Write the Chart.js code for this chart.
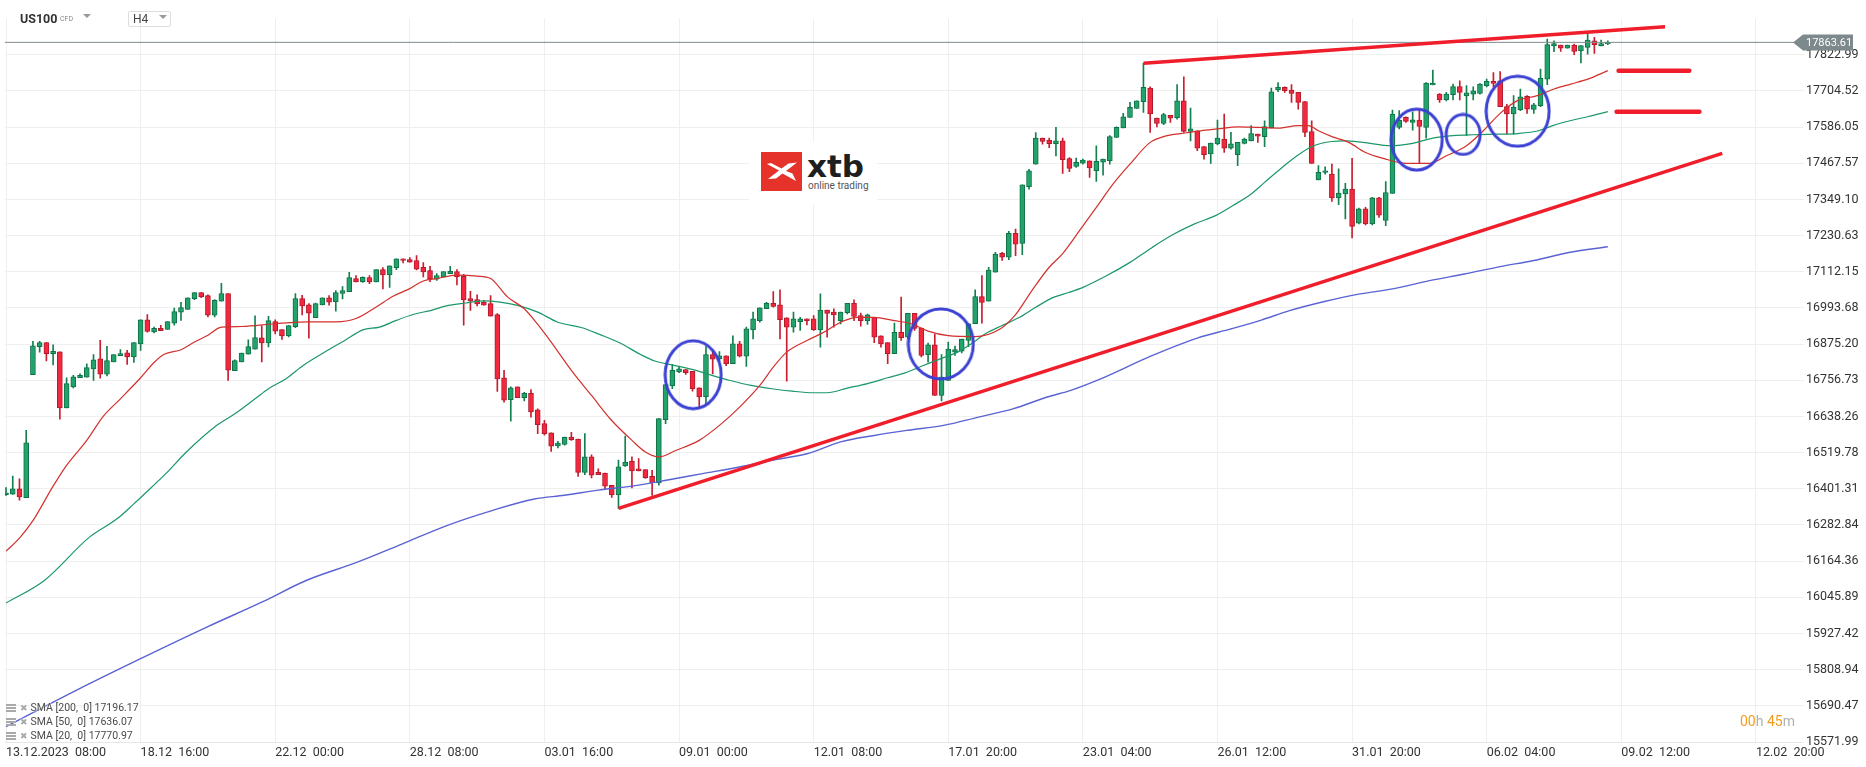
<!DOCTYPE html>
<html>
<head>
<meta charset="utf-8">
<script src="https://cdn.jsdelivr.net/npm/chart.js@4.4.1/dist/chart.umd.min.js"></script>
<style>
html, body { margin: 0; padding: 0; background: #fff; }
#wrap { position: relative; width: 1866px; height: 767px; font-family: Roboto, sans-serif; overflow: hidden; }
#chart { position: absolute; left: 0; top: 0; }
.ov { position: absolute; white-space: nowrap; }
.tri { position: absolute; width: 0; height: 0; border-left: 4px solid transparent; border-right: 4px solid transparent; border-top: 4px solid #9a9a9a; }
.leg { position: absolute; left: 6px; font-size: 10.5px; color: #4a4a4a; white-space: pre; text-shadow: 0 0 2px #fff, 0 0 2px #fff; }
.leg .ic { display: inline-block; width: 10px; height: 8px; margin-right: 4px; vertical-align: -1px;
  background: repeating-linear-gradient(#a9a9a9 0 2px, transparent 2px 3px); }
.leg .x { color: #a9a9a9; font-family: "DejaVu Sans"; font-size: 9px; margin-right: 3px; }
</style>
</head>
<body>
<div id="wrap">
  <canvas id="chart" width="1866" height="767"></canvas>

  <div class="ov" style="left:20px;top:11px;font-weight:bold;font-size:12.5px;color:#333;">US100</div>
  <div class="ov" style="left:60px;top:15px;font-size:7px;color:#888;">CFD</div>
  <div class="tri" style="left:83px;top:14px;"></div>
  <div class="ov" style="left:128px;top:11px;width:41px;height:14px;border:1px solid #dedede;border-radius:2px;"></div>
  <div class="ov" style="left:133px;top:12px;font-size:12px;color:#444;">H4</div>
  <div class="tri" style="left:159px;top:15px;"></div>

  <div class="ov" style="left:749px;top:142px;width:128px;height:62px;background:#fff;">
    <svg style="position:absolute;left:12px;top:10px;" width="41" height="39" viewBox="0 0 41 39">
      <rect width="41" height="39" fill="#e5322b"/>
      <path d="M6 12 L18 18.5 L7 27 L15 26.5 L21.5 21.5 L35 29 L31.5 21.5 L25 19 L36 10.5 L27.5 11.5 L20.5 16.5 L10 11 Z" fill="#fff"/>
    </svg>
    <div class="ov" style="left:58px;top:6px;font-family:'DejaVu Sans';font-weight:bold;font-size:31px;color:#1e1e1e;letter-spacing:0px;">xtb</div>
    <div class="ov" style="left:59px;top:38px;font-size:10px;color:#555;">online trading</div>
  </div>

  <div class="leg" style="top:701px;"><span class="ic"></span><span class="x">✖</span>SMA [200,  0] 17196.17</div>
  <div class="leg" style="top:715px;"><span class="ic"></span><span class="x">✖</span>SMA [50,  0] 17636.07</div>
  <div class="leg" style="top:729px;"><span class="ic"></span><span class="x">✖</span>SMA [20,  0] 17770.97</div>

  <div class="ov" style="left:1740px;top:713px;font-size:14px;"><span style="color:#f59d1b;">00</span><span style="color:#b0b0b0;">h </span><span style="color:#f59d1b;">45</span><span style="color:#b0b0b0;">m</span></div>
</div>

<script>
// --- data (bar index 0 = 13.12.2023 08:00, H4 bars) ---
const xTickLabels = ['13.12.2023  08:00', '18.12  16:00', '22.12  00:00', '28.12  08:00', '03.01  16:00',
  '09.01  00:00', '12.01  08:00', '17.01  20:00', '23.01  04:00', '26.01  12:00', '31.01  20:00',
  '06.02  04:00', '09.02  12:00', '12.02  20:00'];

const yTicks = [15571.99, 15690.47, 15808.94, 15927.42, 16045.89, 16164.36, 16282.84, 16401.31, 16519.78,
  16638.26, 16756.73, 16875.20, 16993.68, 17112.15, 17230.63, 17349.10, 17467.57, 17586.05, 17704.52, 17822.99];

const openP = [
  16382,16384,16401,16372,16775,16867,16880,16844,16850,16666,
  16735,16765,16767,16794,16827,16777,16817,16837,16847,16833,
  16876,16955,16915,16927,16923,16944,16980,16989,17024,17044,
  17034,16970,17016,17041,16788,16817,16842,16859,16896,16879,
  16949,16923,16902,16932,17024,17004,16962,17004,17027,17014,
  17041,17047,17090,17080,17093,17079,17119,17102,17126,17155,
  17152,17149,17127,17116,17088,17095,17106,17113,17097,17024,
  17021,17013,17008,16972,16765,16693,16735,16700,16714,16660,
  16615,16585,16542,16547,16571,16564,16455,16506,16455,16453,
  16413,16381,16476,16491,16467,16464,16442,16421,16628,16738,
  16784,16792,16786,16732,16702,16841,16827,16837,16811,16876,
  16836,16922,16952,16991,17009,17004,16961,16931,16949,16958,
  16958,16922,16987,16980,16952,16978,17009,16969,16952,16963,
  16902,16880,16844,16914,16898,16976,16928,16841,16873,16707,
  16756,16849,16852,16887,16942,17031,17016,17111,17173,17160,
  17238,17205,17391,17465,17550,17543,17532,17541,17483,17457,
  17468,17476,17443,17471,17476,17552,17583,17618,17647,17669,
  17714,17616,17598,17625,17616,17672,17572,17574,17522,17498,
  17531,17547,17517,17496,17533,17541,17563,17555,17583,17708,
  17716,17707,17700,17670,17571,17413,17438,17432,17354,17367,
  17383,17271,17318,17269,17354,17280,17369,17585,17618,17601,
  17609,17585,17724,17694,17675,17692,17719,17688,17694,17696,
  17722,17736,17738,17653,17629,17642,17687,17644,17656,17743,
  17852,17855,17845,17855,17836,17847,17869,17852,17859];

const highP = [
  16405,16443,16434,16593,16884,16884,16880,16873,16850,16765,
  16773,16778,16811,16841,16888,16868,16841,16857,16855,16880,
  16955,16972,16931,16937,16949,16993,17012,17027,17044,17044,
  17037,17021,17074,17041,16824,16846,16889,16968,16935,16966,
  16955,16923,16936,17041,17035,17008,17010,17027,17034,17051,
  17064,17110,17100,17096,17100,17119,17126,17132,17155,17155,
  17159,17165,17142,17130,17106,17113,17130,17119,17104,17048,
  17037,17019,17034,16975,16789,16735,16735,16717,16726,16663,
  16626,16585,16557,16571,16586,16564,16582,16513,16467,16453,
  16413,16495,16574,16506,16500,16464,16462,16631,16743,16809,
  16800,16792,16786,16732,16867,16854,16851,16837,16902,16884,
  16931,16980,16994,17012,17047,17053,16961,16980,16963,16958,
  16969,17040,16987,16991,16980,17009,17020,16977,16974,16963,
  16902,16880,16944,17029,16976,16976,16928,16879,16907,16841,
  16882,16869,16892,16942,17053,17100,17127,17176,17176,17245,
  17252,17397,17448,17568,17550,17550,17585,17550,17486,17485,
  17481,17476,17525,17481,17558,17587,17631,17667,17672,17795,
  17718,17616,17631,17625,17725,17751,17648,17574,17522,17534,
  17609,17629,17569,17536,17550,17591,17563,17607,17714,17732,
  17718,17725,17700,17670,17607,17460,17456,17465,17449,17402,
  17484,17321,17323,17356,17356,17408,17642,17640,17620,17636,
  17642,17732,17773,17696,17700,17727,17738,17722,17718,17729,
  17743,17765,17768,17661,17689,17711,17689,17664,17776,17874,
  17869,17855,17855,17858,17853,17893,17880,17871,17869];

const lowP = [
  16380,16383,16364,16372,16775,16849,16820,16807,16629,16666,
  16732,16765,16767,16756,16764,16771,16817,16837,16809,16815,
  16855,16914,16912,16919,16923,16937,16953,16989,17021,17027,
  16964,16964,17016,16756,16788,16817,16842,16859,16817,16866,
  16909,16891,16899,16929,16971,16895,16962,17004,17003,16983,
  17023,17047,17079,17077,17073,17079,17056,17061,17119,17141,
  17144,17118,17095,17080,17084,17095,17106,17069,16937,16986,
  17000,17003,16967,16720,16685,16623,16700,16689,16636,16582,
  16577,16524,16535,16544,16560,16442,16448,16437,16448,16402,
  16373,16337,16475,16404,16460,16435,16380,16413,16615,16729,
  16782,16776,16721,16669,16680,16778,16822,16805,16811,16833,
  16802,16892,16947,16991,16996,16892,16754,16914,16920,16938,
  16920,16865,16898,16931,16941,16974,16952,16934,16940,16880,
  16865,16811,16844,16887,16892,16920,16833,16816,16707,16689,
  16756,16838,16846,16867,16942,16944,17016,17111,17149,17152,
  17165,17168,17383,17465,17530,17519,17492,17434,17440,17454,
  17465,17421,17408,17429,17465,17552,17583,17618,17647,17634,
  17569,17587,17594,17601,17612,17569,17541,17509,17481,17467,
  17528,17503,17514,17460,17531,17541,17536,17522,17583,17702,
  17700,17667,17645,17555,17467,17413,17432,17343,17332,17285,
  17223,17269,17266,17266,17290,17263,17369,17580,17601,17576,
  17467,17550,17724,17667,17672,17675,17675,17558,17675,17694,
  17718,17718,17653,17563,17563,17640,17631,17631,17653,17725,
  17833,17834,17845,17823,17796,17825,17827,17852,17856];

const closeP = [
  16388,16401,16375,16552,16870,16880,16844,16852,16666,16746,
  16768,16773,16798,16824,16777,16821,16841,16844,16833,16880,
  16955,16917,16927,16919,16949,16982,16995,17027,17044,17030,
  16970,17019,17041,16790,16821,16846,16867,16897,16879,16952,
  16918,16902,16936,17024,17000,16977,17008,17027,17013,17044,
  17051,17093,17079,17094,17079,17119,17102,17132,17155,17149,
  17144,17121,17112,17089,17100,17113,17114,17096,17020,17017,
  17007,17003,16967,16761,16692,16732,16700,16714,16653,16611,
  16582,16541,16551,16571,16562,16455,16506,16446,16448,16410,
  16381,16473,16489,16460,16460,16438,16421,16631,16743,16789,
  16794,16782,16729,16702,16841,16826,16837,16811,16876,16836,
  16925,16958,16994,17009,16999,16955,16931,16958,16958,16952,
  16922,16987,16976,16971,16980,17009,16966,16952,16971,16898,
  16876,16844,16914,16896,16976,16927,16838,16873,16707,16767,
  16859,16857,16892,16942,17031,17012,17118,17170,17160,17238,
  17203,17397,17443,17550,17539,17532,17541,17479,17451,17471,
  17478,17452,17474,17481,17555,17585,17620,17651,17672,17716,
  17629,17598,17627,17615,17672,17572,17580,17517,17496,17534,
  17550,17517,17531,17536,17547,17565,17556,17588,17702,17716,
  17705,17696,17667,17569,17467,17438,17443,17354,17370,17383,
  17261,17318,17269,17354,17298,17372,17629,17609,17605,17610,
  17588,17730,17730,17675,17694,17719,17700,17698,17705,17727,
  17736,17729,17653,17629,17651,17685,17645,17659,17746,17856,
  17860,17845,17855,17834,17853,17871,17856,17860,17863.61];

// moving averages, read at sample bars: [bar, value]
const sma20 = [[0,16197],[2,16240],[4,16297],[7,16410],[9,16478],[12,16560],[14.5,16640],[17,16696],
  [20,16765],[22,16815],[23.5,16842],[26,16857],[28,16882],[30,16904],[32,16931],[35,16933],[40,16942],
  [45,16948],[49,16948],[52,16959],[55,16997],[57.5,17032],[60,17057],[62,17082],[64,17090],[67,17101],
  [70,17098],[72,17090],[74.5,17030],[77,16991],[79,16940],[81,16882],[84,16789],[87,16707],[90,16625],
  [93,16560],[95,16522],[97,16506],[99.5,16527],[103,16560],[106,16609],[109,16669],[112,16740],
  [114,16800],[116,16849],[119,16887],[121.5,16914],[124,16947],[126.5,16963],[129,16963],[132,16952],
  [134.5,16942],[137,16918],[140,16903],[144,16900],[147.5,16922],[150,16972],[152.5,17053],[155,17127],
  [157,17172],[159.5,17247],[162,17323],[164.5,17400],[167,17465],[170,17536],[172,17555],[174.5,17565],
  [177.5,17574],[180,17580],[183,17587],[186,17585],[189,17583],[192,17591],[193.5,17591],[195,17574],
  [197,17555],[199.5,17536],[202,17503],[205,17481],[207,17470],[209.5,17467],[211.5,17467],[214,17492],
  [217,17525],[219.5,17574],[222,17631],[224.5,17672],[227.5,17689],[230,17711],[232.5,17727],
  [235,17743],[238,17771]];

const sma50 = [[0,16027],[5.7,16101],[12.4,16243],[16.5,16303],[19,16352],[20.6,16385],[23.7,16450],
  [26.8,16522],[31,16604],[34,16647],[37,16696],[39,16729],[41.6,16762],[44.2,16806],[47.8,16855],
  [50.4,16888],[53,16922],[55.5,16931],[58,16953],[60.6,16973],[63.2,16986],[65.7,17002],[68.3,17010],
  [71,17017],[73.4,17013],[76,17002],[79,16980],[82,16947],[85.6,16929],[88.2,16907],[91.3,16878],
  [94.3,16841],[96.4,16820],[99.4,16805],[102.5,16789],[105,16772],[107.6,16756],[110.7,16740],
  [113.8,16729],[116.8,16721],[120,16716],[122,16716],[125,16731],[128,16746],[131,16765],[133.7,16782],
  [136.3,16805],[138.8,16827],[141.4,16849],[143.4,16876],[145.5,16909],[148,16936],[150.6,16963],
  [153,16996],[155.7,17029],[158,17045],[160,17061],[163.5,17099],[167,17143],[170.3,17192],[173.4,17234],
  [176.6,17269],[179.7,17296],[182.3,17329],[185,17367],[187,17405],[189.6,17454],[192.2,17498],
  [194.3,17525],[197,17539],[199,17541],[201.6,17536],[205.8,17525],[209,17533],[212,17550],[215,17558],
  [218,17561],[221.5,17563],[224.6,17565],[227.7,17574],[229.8,17591],[232.4,17607],[235,17620],[238,17637]];

const sma200 = [[0,15622],[10.5,15742],[20,15845],[30,15950],[38,16030],[44.6,16101],[52.2,16161],
  [58.9,16221],[65.5,16281],[72.2,16330],[78.5,16368],[83,16380],[88,16397],[93,16410],[98.5,16431],
  [103.5,16451],[108.6,16471],[113.8,16495],[119,16516],[124,16555],[129,16576],[134,16593],[139.3,16609],
  [144.5,16636],[149.6,16663],[154.7,16702],[158.2,16724],[163,16765],[170,16835],[177,16895],[182,16925],
  [186.5,16954],[190.7,16985],[195.9,17015],[201,17039],[206,17056],[211.5,17083],[216.7,17105],
  [222,17129],[227,17149],[232.4,17176],[238,17194]];

// drawn annotations: trend lines, level marks, circled zones
const supportLine = [[91,16337],[255,17500]];
const resistLine = [[169,17795],[246.5,17915]];
const sma20Mark = [[239.6,17771],[250.1,17771]];
const sma50Mark = [[239.3,17636],[251.6,17636]];
const circleBar = [102.1, 138.9, 209.6, 216.5, 224.6];
const circlePrice = [16775, 16876, 17545, 17562, 17638];

// --- helpers ---
const pts = arr => arr.map(([x, y]) => ({ x, y }));
const bars = openP.map((_, i) => i);
const isUp = i => closeP[i] >= openP[i];
const lastClose = closeP[closeP.length - 1];

function ellipse(w, h) {
    const c = document.createElement('canvas');
    c.width = w + 4;
    c.height = h + 4;
    const g = c.getContext('2d');
    g.strokeStyle = '#3b41d2';
    g.lineWidth = 3;
    g.beginPath();
    g.ellipse(c.width / 2, c.height / 2, w / 2, h / 2, 0, 0, Math.PI * 2);
    g.stroke();
    return c;
}

// price tag on the right axis
const priceTag = {
    id: 'priceTag',
    afterDatasetsDraw(chart) {
        const { ctx, chartArea, scales: { y } } = chart;
        const py = Math.round(y.getPixelForValue(lastClose)) + 0.5;
        const tip = chartArea.right - 8, x0 = chartArea.right + 2, x1 = chartArea.right + 52;
        ctx.save();
        ctx.fillStyle = '#7d898c';
        ctx.beginPath();
        ctx.moveTo(tip, py);
        ctx.lineTo(x0, py - 8);
        ctx.lineTo(x1, py - 8);
        ctx.lineTo(x1, py + 8);
        ctx.lineTo(x0, py + 8);
        ctx.closePath();
        ctx.fill();
        ctx.fillStyle = '#fff';
        ctx.font = '11px Roboto';
        ctx.textBaseline = 'middle';
        ctx.fillText(lastClose.toFixed(2), x0 + 3, py + 0.5);
        ctx.restore();
    }
};

Chart.defaults.font.family = 'Roboto';

new Chart(document.getElementById('chart'), {
    type: 'bar',
    data: {
        datasets: [
            {
                type: 'line', data: circleBar.map((x, i) => ({ x, y: circlePrice[i] })),
                showLine: false, pointRadius: 1,
                pointStyle: [ellipse(56, 68), ellipse(65, 70), ellipse(51, 61), ellipse(34, 40), ellipse(63, 70)],
                order: 0
            },
            { type: 'line', data: pts(supportLine), borderColor: '#f01d2b', borderWidth: 3.5, pointRadius: 0, order: 1 },
            { type: 'line', data: pts(resistLine), borderColor: '#f01d2b', borderWidth: 3.5, pointRadius: 0, order: 1 },
            { type: 'line', data: pts(sma20Mark), borderColor: '#f01d2b', borderWidth: 4.5, borderCapStyle: 'round', pointRadius: 0, order: 1 },
            { type: 'line', data: pts(sma50Mark), borderColor: '#f01d2b', borderWidth: 4.5, borderCapStyle: 'round', pointRadius: 0, order: 1 },
            { type: 'line', data: pts(sma20), borderColor: '#d2302c', borderWidth: 1.2, pointRadius: 0, cubicInterpolationMode: 'monotone', order: 2 },
            { type: 'line', data: pts(sma50), borderColor: '#1b9868', borderWidth: 1.2, pointRadius: 0, cubicInterpolationMode: 'monotone', order: 2 },
            { type: 'line', data: pts(sma200), borderColor: '#5a63d4', borderWidth: 1.4, pointRadius: 0, cubicInterpolationMode: 'monotone', order: 2 },
            {
                type: 'line', data: [{ x: -1, y: lastClose }, { x: 270, y: lastClose }],
                borderColor: '#7f8b8e', borderWidth: 1, pointRadius: 0, order: 3
            },
            {
                // candle bodies
                data: bars.map(i => ({ x: i, y: [openP[i], closeP[i]] })),
                backgroundColor: bars.map(i => isUp(i) ? '#22a36c' : '#f3283f'),
                borderColor: bars.map(i => isUp(i) ? '#0f7145' : '#b01a2c'),
                borderWidth: 1, borderSkipped: false, barThickness: 5, grouped: false, order: 4
            },
            {
                // wicks
                data: bars.map(i => ({ x: i, y: [lowP[i], highP[i]] })),
                backgroundColor: bars.map(i => isUp(i) ? '#12804f' : '#c81e30'),
                barThickness: 1, grouped: false, order: 5
            }
        ]
    },
    options: {
        responsive: false,
        animation: false,
        events: [],
        layout: { padding: { left: 5, top: 18.6, right: 0, bottom: 0 } },
        plugins: { legend: { display: false }, tooltip: { enabled: false } },
        scales: {
            x: {
                type: 'linear', min: -0.15, max: 266.7, offset: false,
                grid: { color: '#efefef', drawTicks: false, offset: false },
                border: { display: true, color: '#e6e6e6' },
                afterBuildTicks: s => { s.ticks = xTickLabels.map((_, k) => ({ value: k * 20 })); },
                afterFit: s => { s.height = 25; },
                ticks: {
                    autoSkip: false, maxRotation: 0, align: 'start', padding: 3,
                    color: '#333', font: { size: 12.5 },
                    callback: (v, i) => xTickLabels[i]
                }
            },
            y: {
                type: 'linear', position: 'right', min: 15571.99, max: 17941.46,
                grid: { color: '#efefef', tickLength: 3 },
                border: { display: false },
                afterBuildTicks: s => { s.ticks = yTicks.map(v => ({ value: v })); },
                afterFit: s => { s.width = 65; },
                ticks: { padding: 2, color: '#333', font: { size: 12.5 }, callback: v => v.toFixed(2) }
            }
        }
    },
    plugins: [priceTag]
});
</script>
</body>
</html>
